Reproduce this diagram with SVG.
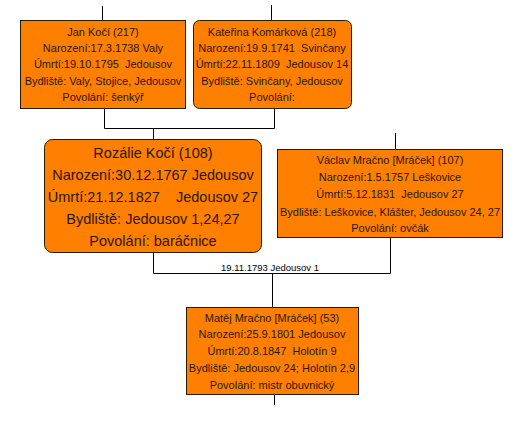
<svg xmlns="http://www.w3.org/2000/svg" width="524" height="435" viewBox="0 0 524 435">
<style>
.box{fill:#ff8000;stroke:#2a1a00;stroke-width:1}
.t{font-family:"Liberation Sans",Arial,sans-serif;font-size:11px;fill:#2a1500;text-anchor:middle;white-space:pre}
.big{font-size:14.5px}
.lbl{font-family:"Liberation Sans",Arial,sans-serif;font-size:9.5px;fill:#000;text-anchor:middle}
.c{fill:none;stroke:#000;stroke-width:1}
</style>
<rect width="524" height="435" fill="#fff"/>
<g id="connectors">
<path class="c" d="M102.5 6V20"/>
<path class="c" d="M271.5 5V20"/>
<path class="c" d="M104.5 108V128.5H274.5V108"/>
<path class="c" d="M153.5 128.5V139"/>
<path class="c" d="M395.5 133V149"/>
<path class="c" d="M153.5 252V273.5H390.5V237"/>
<path class="c" d="M272.5 273.5V307"/>
<path class="c" d="M274.5 394V405"/>
<text class="lbl" x="270" y="271">19.11.1793 Jedousov 1</text>
</g>
<g id="n217">
<rect class="box" x="20.5" y="20.5" width="165" height="88"/>
<text class="t" x="103" y="36">Jan Kočí (217)</text>
<text class="t" x="103" y="52">Narození:17.3.1738 Valy</text>
<text class="t" x="103" y="68" xml:space="preserve">Úmrtí:19.10.1795  Jedousov</text>
<text class="t" x="103" y="85">Bydliště: Valy, Stojice, Jedousov</text>
<text class="t" x="103" y="101">Povolání: šenkýř</text>
</g>
<g id="n218">
<rect class="box" x="193.5" y="20.5" width="158" height="88" rx="6"/>
<text class="t" x="272" y="36">Kateřina Komárková (218)</text>
<text class="t" x="272" y="52" xml:space="preserve">Narození:19.9.1741  Svinčany</text>
<text class="t" x="272" y="68" xml:space="preserve">Úmrtí:22.11.1809  Jedousov 14</text>
<text class="t" x="272" y="85">Bydliště: Svinčany, Jedousov</text>
<text class="t" x="272" y="101">Povolání:</text>
</g>
<g id="n108">
<rect class="box" x="44.5" y="139.5" width="217" height="113" rx="8"/>
<text class="t big" x="153" y="158">Rozálie Kočí (108)</text>
<text class="t big" x="153" y="180">Narození:30.12.1767 Jedousov</text>
<text class="t big" x="153" y="202" xml:space="preserve">Úmrtí:21.12.1827    Jedousov 27</text>
<text class="t big" x="153" y="224">Bydliště: Jedousov 1,24,27</text>
<text class="t big" x="153" y="246">Povolání: baráčnice</text>
</g>
<g id="n107">
<rect class="box" x="277.5" y="149.5" width="225" height="88"/>
<text class="t" x="390" y="164">Václav Mračno [Mráček] (107)</text>
<text class="t" x="390" y="181">Narození:1.5.1757 Leškovice</text>
<text class="t" x="390" y="198" xml:space="preserve">Úmrtí:5.12.1831  Jedousov 27</text>
<text class="t" x="390" y="216">Bydliště: Leškovice, Klášter, Jedousov 24, 27</text>
<text class="t" x="390" y="232">Povolání: ovčák</text>
</g>
<g id="n53">
<rect class="box" x="186.5" y="307.5" width="172" height="87"/>
<text class="t" x="272" y="322">Matěj Mračno [Mráček] (53)</text>
<text class="t" x="272" y="338">Narození:25.9.1801 Jedousov</text>
<text class="t" x="272" y="355" xml:space="preserve">Úmrtí:20.8.1847  Holotín 9</text>
<text class="t" x="272" y="372">Bydliště: Jedousov 24; Holotín 2,9</text>
<text class="t" x="272" y="389">Povolání: mistr obuvnický</text>
</g>
</svg>
